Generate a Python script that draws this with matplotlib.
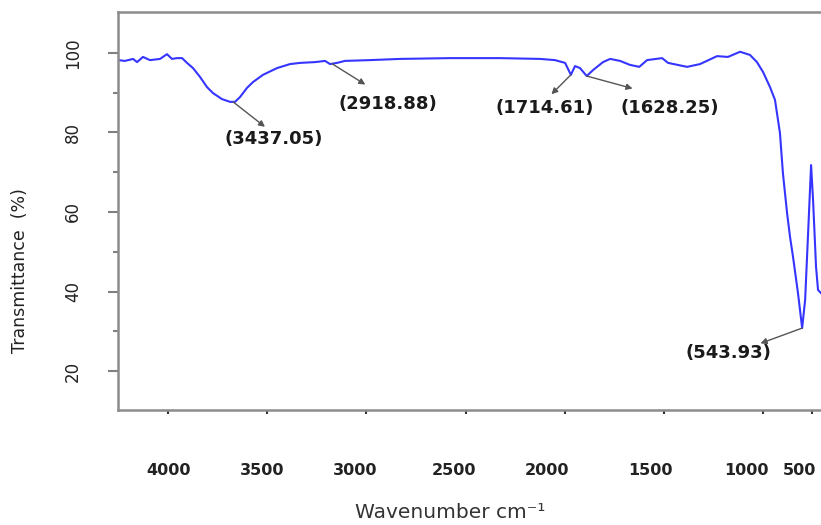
import numpy as np
import matplotlib
matplotlib.use("Agg")
import matplotlib.pyplot as plt
from matplotlib.transforms import ScaledTranslation

# spectrum (x in the axis' own units, y in %)
wavenumber = [4252, 4217, 4176, 4156, 4126, 4091, 4040, 4005, 3980, 3955,
              3929, 3904, 3874, 3839, 3803, 3773, 3728, 3687, 3662, 3637,
              3602, 3571, 3521, 3450, 3385, 3334, 3259, 3208, 3183, 3148,
              3108, 2982, 2830, 2578, 2326, 2124, 2049, 1998, 1969, 1948,
              1923, 1889, 1857, 1807, 1771, 1721, 1671, 1624, 1585, 1509,
              1479, 1383, 1318, 1232, 1177, 1116, 1066, 1031, 1000, 965,
              940, 915, 900, 879, 864, 849, 824, 803, 788, 773,
              758, 748, 733, 723, 708]
transmittance = [98.2, 98.0, 98.5, 97.7, 99.0, 98.2, 98.5, 99.7, 98.5, 98.7,
                 98.7, 97.5, 96.2, 94.0, 91.4, 89.9, 88.4, 87.7, 87.7, 88.9,
                 91.2, 92.7, 94.5, 96.2, 97.2, 97.5, 97.7, 98.0, 97.2, 97.5,
                 98.0, 98.2, 98.5, 98.7, 98.7, 98.5, 98.2, 97.5, 94.5, 96.7,
                 96.2, 94.2, 95.7, 97.7, 98.5, 98.0, 97.0, 96.5, 98.2, 98.7,
                 97.5, 96.5, 97.2, 99.2, 99.0, 100.3, 99.5, 97.7, 95.2, 91.4,
                 88.2, 79.9, 69.8, 59.7, 53.7, 48.7, 39.6, 30.8, 37.9, 54.7,
                 71.8, 63.0, 46.2, 40.4, 39.6]

xtick_pos = [4000, 3500, 3000, 2500, 2000, 1500, 1000, 753]
xtick_labels = ["4000", "3500", "3000", "2500", "2000", "1500", "1000", "500"]
# the labels in the original drift left of their ticks (pixels)
xtick_shift = [1, -5, -11, -12, -18, -13, -17, -13]

peak_labels = ["(3437.05)", "(2918.88)", "(1714.61)", "(1628.25)", "(543.93)"]
peak_pos = [3672, 3173, 1969, 1889, 803]
# arrow head and label offsets from each peak, in points
arrow_off = [(23, -18), (24, -15), (-14, -14), (33, -9), (-30, -11)]
text_off = [(29, -27), (40, -29), (-19, -24), (60, -23), (-53, -18)]

fig = plt.figure(figsize=(8.21, 5.25), dpi=100)
ax = fig.add_axes([118 / 821, 1 - 410 / 525, 1 - 118 / 821, 398 / 525])

ax.plot(wavenumber, transmittance, color="#3535ff", lw=1.5)
ax.set_xlim(4252, 708)
ax.set_ylim(10.2, 110.3)

for lab, p, a, t in zip(peak_labels, peak_pos, arrow_off, text_off):
    y = np.interp(p, wavenumber[::-1], transmittance[::-1])
    ax.annotate("", xy=(p, y), xytext=a, textcoords="offset points",
                arrowprops=dict(arrowstyle="<|-", color="#555555", lw=1.0,
                                mutation_scale=9, shrinkA=0, shrinkB=0))
    ax.annotate(lab, xy=(p, y), xytext=t, textcoords="offset points",
                ha="center", va="center", fontsize=13, fontweight="bold",
                color="#1a1a1a", family="DejaVu Sans")

ax.set_xticks(xtick_pos)
ax.set_xticklabels(xtick_labels, fontweight="bold", fontsize=11.5, color="#222222")
ax.set_yticks([20, 40, 60, 80, 100])
ax.set_yticks([30, 50, 70, 90], minor=True)
ax.tick_params(axis="x", direction="out", length=3, width=1.5, color="#333333", pad=35)
ax.tick_params(axis="y", which="major", direction="out", length=7, width=1.5,
               color="#808080", pad=19, labelsize=12, labelrotation=90, labelcolor="#222222")
ax.tick_params(axis="y", which="minor", direction="out", length=3.6, width=1.5, color="#808080")
for lab in ax.get_yticklabels():
    lab.set_va("center")
for lab, dx in zip(ax.get_xticklabels(), xtick_shift):
    lab.set_transform(lab.get_transform() + ScaledTranslation(dx / 100, 0, fig.dpi_scale_trans))

for s in ["left", "bottom", "top"]:
    ax.spines[s].set_color("#8c8c8c")
    ax.spines[s].set_linewidth(1.8)
ax.spines["right"].set_visible(False)

fig.text(20 / 821, 1 - 271 / 525, "Transmittance  (%)", rotation=90,
         ha="center", va="center", fontsize=12.5, color="#222222")
fig.text(450 / 821, 1 - 512 / 525, "Wavenumber cm\u207b\u00b9",
         ha="center", va="center", fontsize=14.5, color="#333333")

fig.savefig("out.png", dpi=100)
